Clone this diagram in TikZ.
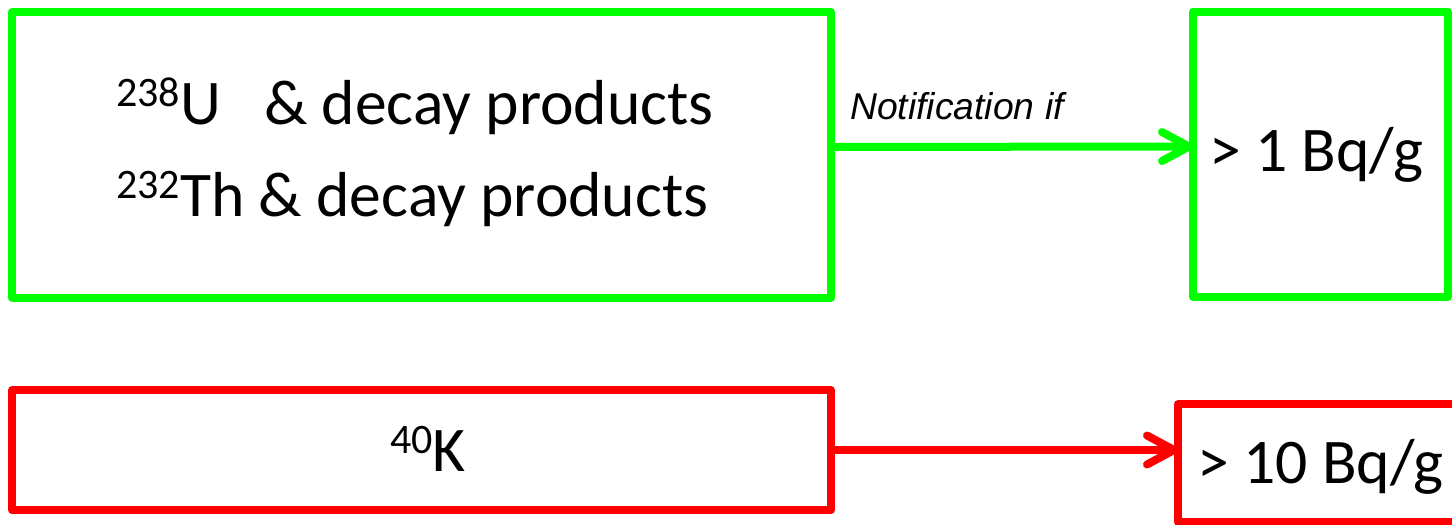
\documentclass[tikz,border=0pt]{standalone}
\usepackage{fontspec}
\setmainfont{Carlito}
\newfontfamily\arialfont{Liberation Sans}
\usetikzlibrary{arrows.meta}
\newcommand{\isotope}[2]{{\fontsize{42bp}{42bp}\selectfont\raisebox{18bp}{#1}}#2}
\definecolor{pgreen}{RGB}{0,255,0}
\definecolor{pred}{RGB}{255,0,0}
\begin{document}
\begin{tikzpicture}[x=1bp,y=-1bp,
  box/.style={draw, line width=7.5bp, line join=round, inner sep=0pt, outer sep=0pt},
  txt/.style={inner sep=0pt, anchor=base west, text=black, font=\fontsize{63.6bp}{76bp}\selectfont},
  conn/.style={line width=8bp, -{Straight Barb[length=27bp,width=29bp,round]}},
  lbl/.style={inner sep=0pt, anchor=base west, text=black, font=\arialfont\itshape\fontsize{37.3bp}{44bp}\selectfont}]
\useasboundingbox (0,0) rectangle (1452,525);
\clip (0,0) rectangle (1452,525);
% boxes
\node[box, pgreen, minimum width=819bp, minimum height=286bp] (gl) at (421.5,155) {};
\node[box, pgreen, minimum width=255bp, minimum height=285bp] (gr) at (1320.5,154.5) {};
\node[box, pred, minimum width=819bp, minimum height=120bp] (rl) at (421.5,450) {};
\node[box, pred, minimum width=288bp, minimum height=118bp] (rr) at (1322,463) {};
% texts
\node[txt] (t1) at (116,125) {\isotope{238}{U}~~~\& decay products};
\node[txt] (t2) at (116,217) {\isotope{232}{Th} \& decay products};
\node[txt] (t3) at (390,471) {\isotope{40}{K}};
\node[txt] (t4) at (1209,172) {> 1 Bq/g};
\node[txt] (t5) at (1197,483) {> 10 Bq/g};
\node[lbl] (n1) at (850,120) {Notification if};
% connectors
\draw[conn, pgreen] ([yshift=8bp]gl.east) -- ([yshift=8bp]gr.west);
\draw[conn, pred] (rl.east) -- (rl.east -| rr.west);
\end{tikzpicture}
\end{document}
